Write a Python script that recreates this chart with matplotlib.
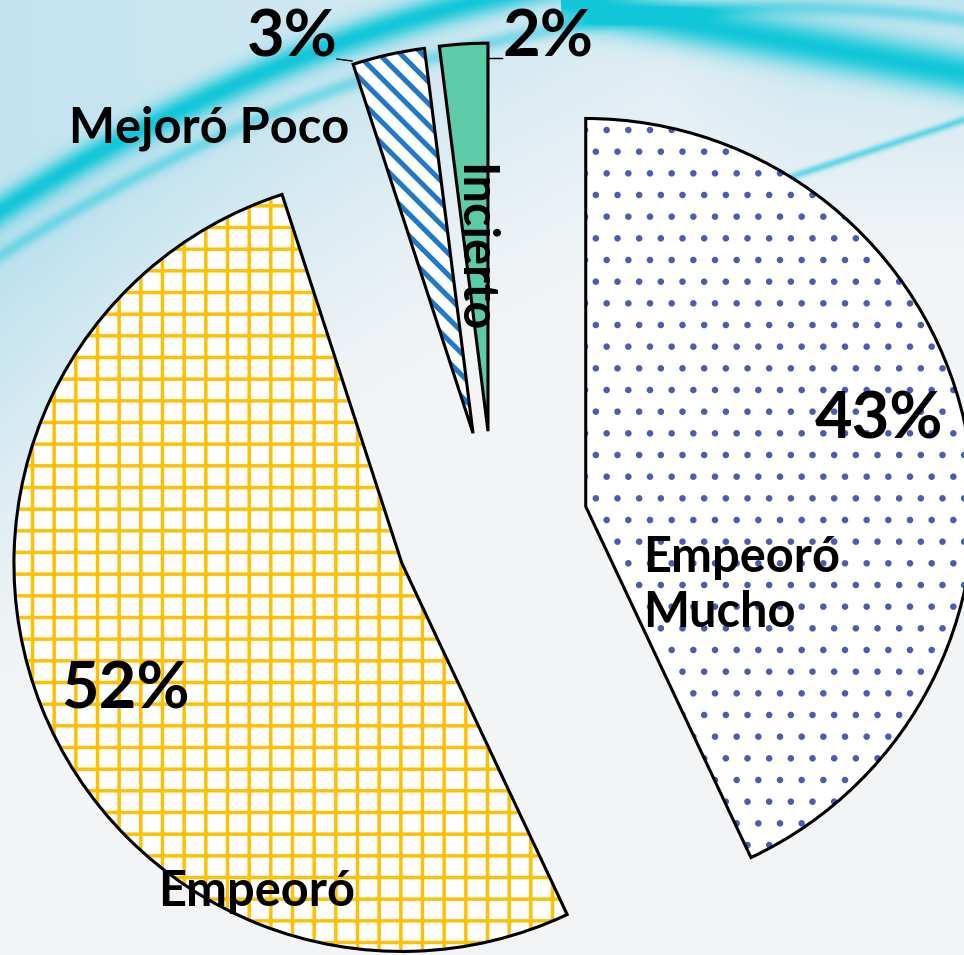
import numpy as np
import matplotlib.pyplot as plt
from matplotlib.patches import Wedge

# data
labels = ['Empeoró\nMucho', 'Empeoró', 'Mejoró Poco', 'Incierto']
values = [43, 52, 3, 2]
pct_labels = ['43%', '52%', '3%', '2%']

hatches = ['.', '+', '\\\\', '']
hatch_colors = ['#4a5cb8', '#ffc000', '#1f78c8', '#5ecba8']
face_colors = ['white', 'white', 'white', '#5ecba8']
hatch_widths = [1.2, 1.9, 2.8, 1.0]

W, H = 964, 955
DPI = 130
R = 388
CENTER = (494, H - 527)
explode = [94, 99, 96, 96]

FONT = 'Lato'

plt.rcParams['hatch.linewidth'] = 2.0

fig = plt.figure(figsize=(W / DPI, H / DPI), dpi=DPI)
ax = fig.add_axes([0, 0, 1, 1])

# background swirl (decoration)
yy, xx = np.mgrid[0:H, 0:W].astype(float)
f = 210 - 0.63 * xx + 0.0004 * xx ** 2
d = yy - f
img = np.ones((H, W, 3)) * np.array([0.955, 0.96, 0.965])
haze_col = np.array([0.70, 0.87, 0.93])
haze = np.where(d < 0, 0.75, np.clip(1 - d / (520 - 0.3 * xx), 0, 1) ** 1.4)
haze *= np.clip(1 - xx / 1300, 0.3, 1)
top_r = np.clip(1 - yy / 260, 0, 1) * np.clip((xx - 500) / 300, 0, 1) * 0.7
haze = np.maximum(haze, top_r)
img = img * (1 - haze[..., None]) + haze_col * haze[..., None]
cyan = np.array([0.07, 0.78, 0.85])
band = np.exp(-(d / 16) ** 2)
band2 = 0.45 * np.exp(-((d - 45) / 8) ** 2)
g = (xx - 560) * 0.18
band3 = np.exp(-((yy - g) / 22) ** 2) * (xx > 560)
h = 180 - (xx - 780) * 0.33
band4 = 0.6 * np.exp(-((yy - h) / 4) ** 2) * np.clip((xx - 700) / 100, 0, 1)
b = np.clip(band + band2 + band3 + band4, 0, 1)
img = img * (1 - b[..., None]) + cyan * b[..., None]
ax.imshow(img, extent=(0, W, 0, H), origin='upper', zorder=0, aspect='auto')

wedges, _ = ax.pie(values, startangle=90, counterclock=False, radius=R,
                   center=CENTER, explode=explode)

for w, hc, fc, ht, hw in zip(wedges, hatch_colors, face_colors, hatches, hatch_widths):
    w.set_facecolor(fc)
    w.set_edgecolor(hc)
    w.set_linewidth(0)
    w.set_hatch(ht)
    if hasattr(w, 'set_hatchcolor'):
        w.set_hatchcolor(hc)
    if hasattr(w, 'set_hatch_linewidth'):
        w.set_hatch_linewidth(hw)
    elif hasattr(w, '_hatch_linewidth'):
        w._hatch_linewidth = hw
    w.set_zorder(2)
    ax.add_patch(Wedge(w.center, w.r, w.theta1, w.theta2, fill=False,
                       edgecolor='black', linewidth=1.7, zorder=3))

ax.set_xlim(0, W)
ax.set_ylim(0, H)
ax.set_aspect('equal')
ax.axis('off')

# percentages
pct_pos = [(879, 420), (126, 690), (292, 38), (548, 38)]
for txt, (x, y) in zip(pct_labels, pct_pos):
    ax.text(x, H - y, txt, fontsize=36, fontweight='bold', family=FONT,
            ha='center', va='center', zorder=5)

# category names
ax.text(643, H - 585, labels[0], fontsize=27, fontweight='bold', family=FONT,
        ha='left', va='center', linespacing=1.25, zorder=5)
ax.text(257, H - 892, labels[1], fontsize=27, fontweight='bold', family=FONT,
        ha='center', va='center', zorder=5)
ax.text(209, H - 128, labels[2], fontsize=27, fontweight='bold', family=FONT,
        ha='center', va='center', zorder=5)
ax.text(474, H - 248, labels[3], fontsize=27, fontweight='bold', family=FONT,
        ha='center', va='center', rotation=270, zorder=5)

# leader lines for the small slices
ax.plot([337, 352], [H - 59, H - 61], color='black', lw=0.8, zorder=4)
ax.plot([489, 502], [H - 58, H - 58], color='black', lw=0.8, zorder=4)

fig.savefig('out.png', dpi=DPI)
